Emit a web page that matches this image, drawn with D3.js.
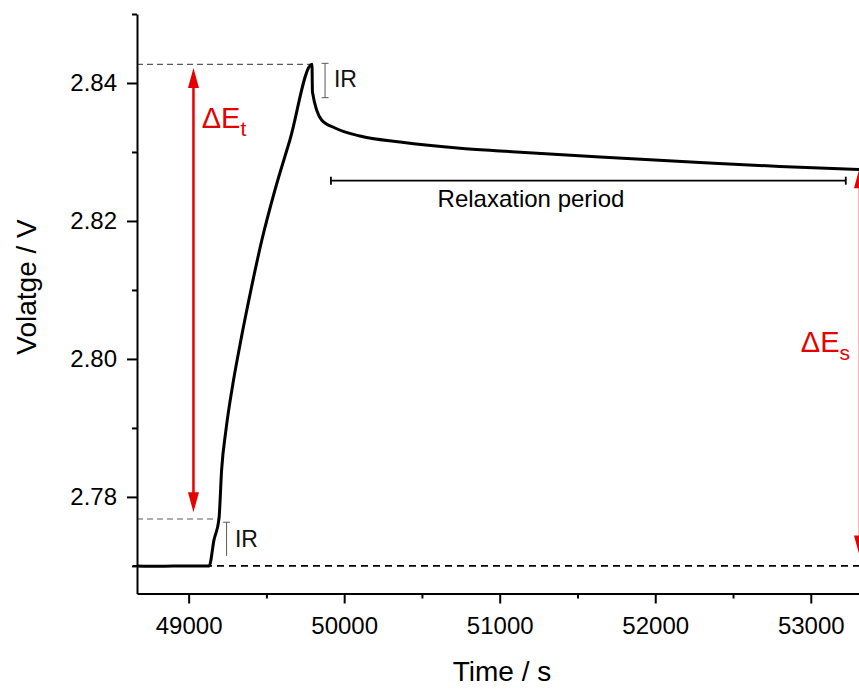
<!DOCTYPE html>
<html>
<head>
<meta charset="utf-8">
<script src="https://cdn.jsdelivr.net/npm/d3@7"></script>
<style>
  html, body { margin: 0; padding: 0; background: #fff; }
  svg { display: block; font-family: "Liberation Sans", Arial, sans-serif; }
</style>
</head>
<body>
<svg id="chart" width="859" height="689"></svg>
<script>
// ---------------- data ----------------
const timeValues = [48668, 48800, 49000, 49132, 49163, 49195, 49212, 49240, 49278, 49330, 49394, 49471, 49555, 49651, 49793, 49796, 49855, 49941, 50101, 50359, 50745, 51002, 51645, 52288, 52802, 53310];
const voltageValues = [2.7700, 2.76995, 2.7700, 2.7700, 2.77377, 2.77681, 2.78391, 2.78971, 2.79551, 2.80203, 2.80928, 2.81725, 2.82449, 2.83174, 2.84271, 2.83870, 2.83464, 2.83348, 2.83232, 2.83145, 2.83054, 2.83014, 2.82928, 2.82848, 2.82790, 2.82746];

const xMajorTicks = [49000, 50000, 51000, 52000, 53000];
const xMinorTicks = [49500, 50500, 51500, 52500];
const yMajorTicks = [2.78, 2.80, 2.82, 2.84];
const yMinorTicks = [2.77, 2.79, 2.81, 2.83, 2.85];

const xTitle = "Time / s";
const yTitle = "Volatge / V";

// annotation values (data units)
const peakTime = 49793, peakVolt = 2.8427;
const jumpTime = 49195, jumpVolt = 2.7768;
const baseVolt = 2.7700;
const arrowT = { time: 49031, top: 2.84217, bottom: 2.77778 };
const arrowS = { time: 53313, top: 2.82764, bottom: 2.7715 };
const relax = { start: 49915, end: 53225, volt: 2.82584, label: "Relaxation period", labelTime: 51201, labelVolt: 2.82203 };
const irTop = { time: 49877, top: 2.84285, bottom: 2.83787, labelTime: 49934, labelVolt: 2.83946 };
const irBottom = { time: 49244, top: 2.77633, bottom: 2.77145, labelTime: 49298, labelVolt: 2.77275 };
const dEt = { time: 49084, volt: 2.83343, sub: "t" };
const dEs = { time: 52936, volt: 2.80106, sub: "s" };

// ---------------- scales ----------------
const svg = d3.select("#chart");
const xDomain = [48668, 53310];
const yDomain = [2.766, 2.85];
const x = d3.scaleLinear().domain(xDomain).range([137, 859]);
const y = d3.scaleLinear().domain(yDomain).range([593.5, 14]);

const red = "#e60000";
const grey = "#5a5a5a";

// ---------------- reference lines ----------------
svg.append("line")
  .attr("x1", x(xDomain[0])).attr("x2", x(peakTime))
  .attr("y1", y(peakVolt)).attr("y2", y(peakVolt))
  .attr("stroke", grey).attr("stroke-width", 1.2).attr("stroke-dasharray", "6,4");
svg.append("line")
  .attr("x1", x(xDomain[0])).attr("x2", x(jumpTime))
  .attr("y1", y(jumpVolt)).attr("y2", y(jumpVolt))
  .attr("stroke", grey).attr("stroke-width", 1.2).attr("stroke-dasharray", "6,4");
svg.append("line")
  .attr("x1", x(xDomain[0]) - 4).attr("x2", x(xDomain[1]))
  .attr("y1", y(baseVolt)).attr("y2", y(baseVolt))
  .attr("stroke", "#000").attr("stroke-width", 1.6).attr("stroke-dasharray", "7,5");

// ---------------- main curve ----------------
const pts = timeValues.map((t, i) => [t, voltageValues[i]]);
svg.append("path")
  .datum(pts)
  .attr("fill", "none")
  .attr("stroke", "#000")
  .attr("stroke-width", 3)
  .attr("stroke-linejoin", "round")
  .attr("d", d3.line().x(d => x(d[0])).y(d => y(d[1])).curve(d3.curveMonotoneX));

// ---------------- axes ----------------
function styleAxis(g) {
  g.select(".domain").attr("stroke", "#000").attr("stroke-width", 2);
  g.selectAll(".tick line").attr("stroke", "#000").attr("stroke-width", 2);
  g.selectAll(".tick text").attr("fill", "#000").style("font-family", '"Liberation Sans", Arial, sans-serif').style("font-size", "24px");
}
const gx = svg.append("g").attr("transform", `translate(0,${y(yDomain[0])})`)
  .call(d3.axisBottom(x).tickValues(xMajorTicks).tickFormat(d3.format("d")).tickSize(10).tickSizeOuter(0).tickPadding(13));
styleAxis(gx);
const gxm = svg.append("g").attr("transform", `translate(0,${y(yDomain[0])})`)
  .call(d3.axisBottom(x).tickValues(xMinorTicks).tickFormat("").tickSize(5).tickSizeOuter(0));
styleAxis(gxm);
gxm.select(".domain").remove();

const gy = svg.append("g").attr("transform", `translate(${x(xDomain[0])},0)`)
  .call(d3.axisLeft(y).tickValues(yMajorTicks).tickFormat(d3.format(".2f")).tickSize(10).tickSizeOuter(0).tickPadding(10));
styleAxis(gy);
const gym = svg.append("g").attr("transform", `translate(${x(xDomain[0])},0)`)
  .call(d3.axisLeft(y).tickValues(yMinorTicks).tickFormat("").tickSize(5).tickSizeOuter(0));
styleAxis(gym);
gym.select(".domain").remove();

svg.append("text")
  .attr("x", 502).attr("y", 681)
  .attr("text-anchor", "middle")
  .style("font-size", "28px")
  .text(xTitle);
svg.append("text")
  .attr("transform", `translate(36,287) rotate(-90)`)
  .attr("text-anchor", "middle")
  .style("font-size", "28px")
  .text(yTitle);

// ---------------- arrows ----------------
function vArrow(tx, vTop, vBottom, partial) {
  const cx = x(tx), yt = y(vTop), yb = y(vBottom);
  const hl = 20, hw = 5.5;
  svg.append("line").attr("x1", cx).attr("x2", cx).attr("y1", yt + hl - 2).attr("y2", yb - hl + 2)
    .attr("stroke", red).attr("stroke-width", partial ? 1.5 : 2.5);
  svg.append("path").attr("fill", red)
    .attr("d", `M${cx},${yt} L${cx - hw},${yt + hl} L${cx + hw},${yt + hl} Z`);
  svg.append("path").attr("fill", red)
    .attr("d", `M${cx},${yb} L${cx - hw},${yb - hl} L${cx + hw},${yb - hl} Z`);
}
vArrow(arrowT.time, arrowT.top, arrowT.bottom, false);
vArrow(arrowS.time, arrowS.top, arrowS.bottom, true);

function deltaLabel(o) {
  const t = svg.append("text").attr("x", x(o.time)).attr("y", y(o.volt))
    .attr("fill", red).style("font-size", "29px");
  t.append("tspan").text("ΔE");
  t.append("tspan").attr("dy", 8).style("font-size", "21px").text(o.sub);
}
deltaLabel(dEt);
deltaLabel(dEs);

// ---------------- relaxation bar ----------------
const ry = y(relax.volt);
svg.append("line").attr("x1", x(relax.start)).attr("x2", x(relax.end)).attr("y1", ry).attr("y2", ry)
  .attr("stroke", "#000").attr("stroke-width", 1.8);
[relax.start, relax.end].forEach(t => {
  svg.append("line").attr("x1", x(t)).attr("x2", x(t)).attr("y1", ry - 4).attr("y2", ry + 4)
    .attr("stroke", "#000").attr("stroke-width", 1.8);
});
svg.append("text").attr("x", x(relax.labelTime)).attr("y", y(relax.labelVolt))
  .attr("text-anchor", "middle").style("font-size", "24px").text(relax.label);

// ---------------- IR markers ----------------
function irMarker(o, capBottom) {
  const cx = x(o.time), yt = y(o.top), yb = y(o.bottom);
  svg.append("line").attr("x1", cx).attr("x2", cx).attr("y1", yt).attr("y2", yb)
    .attr("stroke", grey).attr("stroke-width", 1);
  svg.append("line").attr("x1", cx - 3.5).attr("x2", cx + 3.5).attr("y1", yt).attr("y2", yt)
    .attr("stroke", grey).attr("stroke-width", 1);
  if (capBottom) {
    svg.append("line").attr("x1", cx - 3.5).attr("x2", cx + 3.5).attr("y1", yb).attr("y2", yb)
      .attr("stroke", grey).attr("stroke-width", 1);
  }
  svg.append("text").attr("x", x(o.labelTime)).attr("y", y(o.labelVolt))
    .style("font-size", "23px").attr("fill", "#111").text("IR");
}
irMarker(irTop, true);
irMarker(irBottom, false);
</script>
</body>
</html>
